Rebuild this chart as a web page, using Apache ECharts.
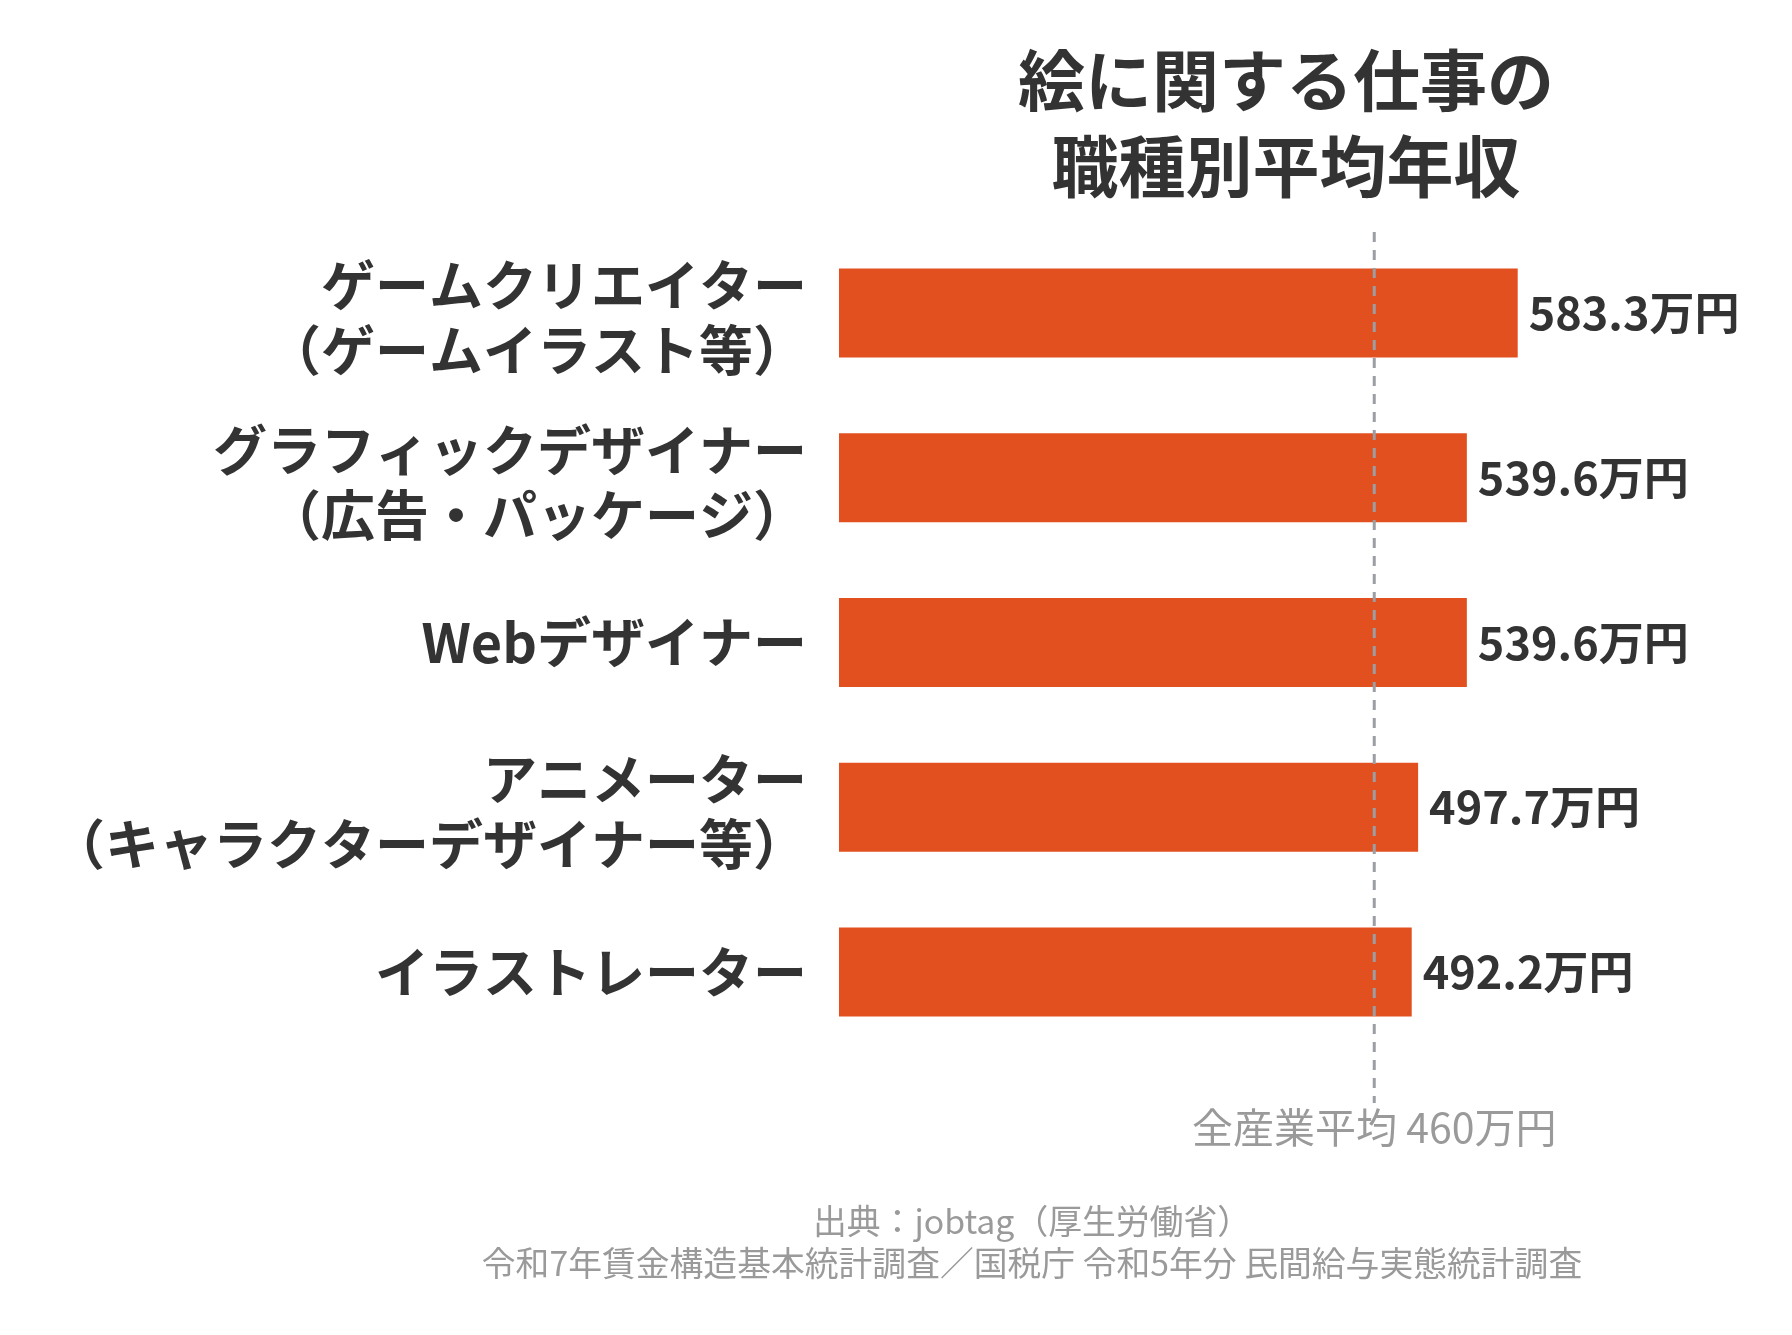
<!DOCTYPE html>
<html>
<head>
<meta charset="utf-8">
<title>絵に関する仕事の職種別平均年収</title>
<script src="https://cdn.jsdelivr.net/npm/echarts@6/dist/echarts.min.js"></script>
<style>
  html, body { margin: 0; padding: 0; background: #fff; }
  #chart { width: 1792px; height: 1335px; }
</style>
</head>
<body>
<div id="chart"></div>
<script>
// データ
const jobs = [
  'ゲームクリエイター\n（ゲームイラスト等）',
  'グラフィックデザイナー\n（広告・パッケージ）',
  'Webデザイナー',
  'アニメーター\n（キャラクターデザイナー等）',
  'イラストレーター'
];
const salaries = [583.3, 539.6, 539.6, 497.7, 492.2]; // 万円
const allIndustryAvg = 460; // 全産業平均

const FONT = "'Noto Sans CJK JP', 'Noto Sans', sans-serif";

const chart = echarts.init(document.getElementById('chart'));

const option = {
  backgroundColor: '#fff',
  animation: false,
  textStyle: { fontFamily: FONT },
  title: [
    {
      text: '絵に関する仕事の\n職種別平均年収',
      left: 1281,
      top: 33,
      textAlign: 'center',
      textStyle: {
        fontFamily: FONT,
        fontSize: 67,
        fontWeight: 'bold',
        color: '#333',
        lineHeight: 86
      }
    },
    {
      text: '出典：jobtag（厚生労働省）\n令和7年賃金構造基本統計調査／国税庁 令和5年分 民間給与実態統計調査',
      left: 1027,
      top: 1195,
      textAlign: 'center',
      textStyle: {
        fontFamily: FONT,
        fontSize: 33.8,
        fontWeight: 'normal',
        color: '#9a9a9a',
        lineHeight: 42
      }
    }
  ],
  grid: {
    left: 839,
    top: 230.6,
    width: 814.5,
    height: 823.8
  },
  xAxis: {
    type: 'value',
    min: 0,
    max: 700,
    show: false
  },
  yAxis: {
    type: 'category',
    data: jobs,
    inverse: true,
    axisLine: { show: false },
    axisTick: { show: false },
    axisLabel: {
      margin: 32,
      align: 'right',
      // 2行ラベルは上に小さな空行を入れて少し下げる
      formatter: name => {
        const lines = name.split('\n').map(l => '{t|' + l + '}');
        return (lines.length > 1 ? '{s|}\n' : '') + lines.join('\n');
      },
      rich: {
        t: {
          fontFamily: FONT,
          fontSize: 54,
          fontWeight: 'bold',
          color: '#333',
          lineHeight: 65,
          align: 'right'
        },
        s: {
          fontSize: 10,
          lineHeight: 10,
          align: 'right'
        }
      }
    }
  },
  series: [
    {
      type: 'bar',
      data: salaries,
      barWidth: 89,
      itemStyle: { color: '#E25020' },
      label: {
        show: true,
        position: 'right',
        distance: 11,
        formatter: p => p.value.toFixed(1) + '万円',
        fontFamily: FONT,
        fontSize: 45,
        fontWeight: 'bold',
        color: '#333',
        padding: [0, 0, 6, 0]
      }
    }
  ]
};

chart.setOption(option);

// 全産業平均の点線（軸のスケールから位置を取得）
const avgX = chart.convertToPixel({ xAxisIndex: 0 }, allIndustryAvg);
chart.setOption({
  graphic: [
    {
      type: 'line',
      z: 10,
      shape: { x1: avgX, y1: 232, x2: avgX, y2: 1103 },
      style: { stroke: '#9b9ea3', lineWidth: 3, lineDash: [10, 8] }
    },
    {
      type: 'text',
      x: avgX,
      y: 1127,
      style: {
        text: '全産業平均 ' + allIndustryAvg + '万円',
        fontFamily: FONT,
        fontSize: 41,
        fill: '#9a9a9a',
        align: 'center',
        verticalAlign: 'middle'
      }
    }
  ]
});

window.addEventListener('resize', () => {
  chart.resize();
});
</script>
</body>
</html>
